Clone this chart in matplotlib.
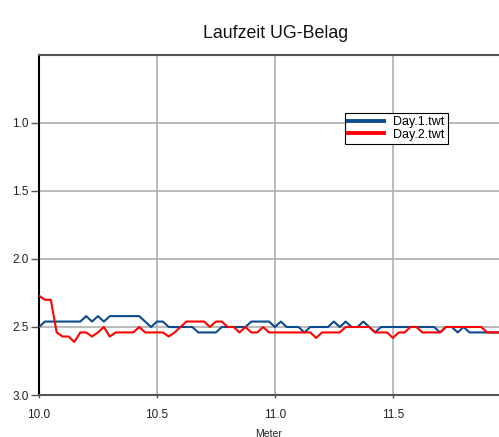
import numpy as np
import matplotlib
matplotlib.use("Agg")
import matplotlib.pyplot as plt

# Sample positions along the track (m)
meter = [10.0 + 0.025 * i for i in range(79)]

# Travel time, day 1
day1 = [2.50, 2.46, 2.46, 2.46, 2.46, 2.46, 2.46, 2.46, 2.42, 2.46,
        2.42, 2.46, 2.42, 2.42, 2.42, 2.42, 2.42, 2.42, 2.46, 2.50,
        2.46, 2.46, 2.50, 2.50, 2.50, 2.50, 2.50, 2.54, 2.54, 2.54,
        2.54, 2.50, 2.50, 2.50, 2.50, 2.50, 2.46, 2.46, 2.46, 2.46,
        2.50, 2.46, 2.50, 2.50, 2.50, 2.54, 2.50, 2.50, 2.50, 2.50,
        2.46, 2.50, 2.46, 2.50, 2.50, 2.46, 2.50, 2.54, 2.50, 2.50,
        2.50, 2.50, 2.50, 2.50, 2.50, 2.50, 2.50, 2.50, 2.54, 2.50,
        2.50, 2.54, 2.50, 2.54, 2.54, 2.54, 2.54, 2.54, 2.54]

# Travel time, day 2
day2 = [2.27, 2.30, 2.30, 2.54, 2.57, 2.57, 2.61, 2.54, 2.54, 2.57,
        2.54, 2.50, 2.57, 2.54, 2.54, 2.54, 2.54, 2.50, 2.54, 2.54,
        2.54, 2.54, 2.57, 2.54, 2.50, 2.46, 2.46, 2.46, 2.46, 2.50,
        2.46, 2.46, 2.50, 2.50, 2.54, 2.50, 2.54, 2.54, 2.50, 2.54,
        2.54, 2.54, 2.54, 2.54, 2.54, 2.54, 2.54, 2.58, 2.54, 2.54,
        2.54, 2.54, 2.50, 2.50, 2.50, 2.50, 2.50, 2.54, 2.54, 2.54,
        2.58, 2.54, 2.54, 2.50, 2.50, 2.54, 2.54, 2.54, 2.54, 2.50,
        2.50, 2.50, 2.50, 2.50, 2.50, 2.50, 2.54, 2.54, 2.54]

labels = ["Day.1.twt", "Day.2.twt"]
x_ticks = [10.0, 10.5, 11.0, 11.5]
y_ticks = [1.0, 1.5, 2.0, 2.5, 3.0]

plt.rcParams["font.family"] = ["Liberation Sans", "DejaVu Sans"]

fig = plt.figure(figsize=(4.99, 4.37), dpi=100)
ax = fig.add_axes([39 / 499, 1 - 395 / 437, 1 - 39 / 499, (395 - 55) / 437])

ax.plot(meter, day1, color="#0b4a8c", lw=1.5, label=labels[0], zorder=3)
ax.plot(meter, day2, color="#ff0000", lw=1.5, label=labels[1], zorder=3)

ax.set_xlim(10.0, 11.95)
ax.set_ylim(3.0, 0.5)
ax.set_xticks(x_ticks)
ax.set_xticklabels([f"{v:.1f}" for v in x_ticks])
ax.set_yticks(y_ticks)
ax.set_yticklabels([f"{v:.1f}" for v in y_ticks])

ax.grid(True, color="#b4b4b4", lw=1.3, zorder=0)
ax.set_axisbelow(True)

for side in ("top", "bottom"):
    ax.spines[side].set_color("#555555")
    ax.spines[side].set_linewidth(1.5)
ax.spines["left"].set_color("black")
ax.spines["left"].set_linewidth(1.5)
ax.spines["right"].set_visible(False)

ax.tick_params(axis="y", labelsize=8.5, length=6, width=1, color="#555555",
               pad=1.5, labelcolor="#222222")
ax.tick_params(axis="x", labelsize=8.5, length=2.5, width=1, color="#555555",
               pad=7.5, labelcolor="#222222")

ax.set_xlabel("Meter", fontsize=7.5, labelpad=5.5, color="#222222")
fig.text(276 / 499, 1 - 34 / 437, "Laufzeit UG-Belag", ha="center", va="center",
         fontsize=12.8, color="#111111")

leg = ax.legend(loc="upper left", bbox_to_anchor=(345 / 499, 1 - 113 / 437),
                bbox_transform=fig.transFigure, fontsize=9, frameon=True,
                fancybox=False, edgecolor="black", framealpha=1,
                handlelength=2.9, handletextpad=0.7, borderpad=0.25,
                borderaxespad=0, labelspacing=0.05)
leg.get_frame().set_linewidth(0.8)
for line in leg.get_lines():
    line.set_linewidth(2.8)

fig.savefig("out.png", dpi=100)
